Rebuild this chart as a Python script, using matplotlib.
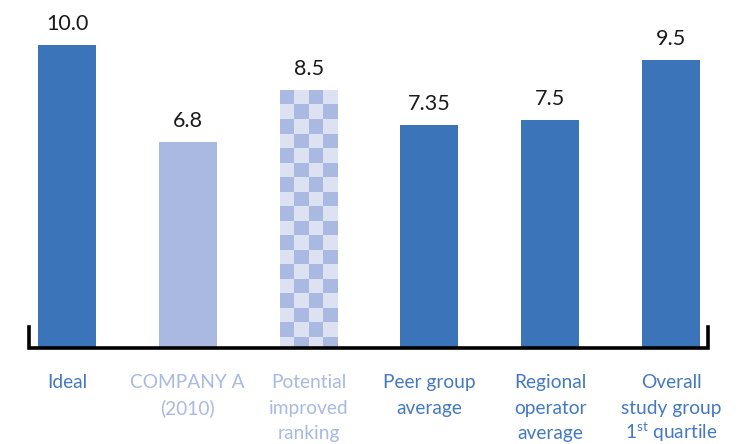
import numpy as np
import matplotlib
matplotlib.use("Agg")
import matplotlib.pyplot as plt

plt.rcParams['font.family'] = ['Lato', 'DejaVu Sans']
plt.rcParams['mathtext.fontset'] = 'custom'
plt.rcParams['mathtext.rm'] = 'Lato'

categories = ["Ideal", "COMPANY A\n(2010)", "Potential\nimproved\nranking",
              "Peer group\naverage", "Regional\noperator\naverage",
              "Overall\nstudy group\n1$^{\\mathrm{st}}$ quartile"]
values = [10.0, 6.8, 8.5, 7.35, 7.5, 9.5]
value_labels = ["10.0", "6.8", "8.5", "7.35", "7.5", "9.5"]

BLUE = "#3C74BA"
LIGHT = "#A9B9E1"
PALE = "#DCE2F2"
TEXT_BLUE = "#4479C0"
bar_colors = [BLUE, LIGHT, PALE, BLUE, BLUE, BLUE]
label_colors = [TEXT_BLUE, LIGHT, LIGHT, TEXT_BLUE, TEXT_BLUE, TEXT_BLUE]

W, H = 751, 444
fig = plt.figure(figsize=(W / 100, H / 100), dpi=100)
base_px = 97
ax = fig.add_axes([0, base_px / H, 1, 1 - base_px / H])
spacing = 120.8
c0 = 67
ppu = 30.2  # pixels per value unit
ax.axis('off')

x = np.arange(len(categories))
width = 58 / spacing
bars = ax.bar(x, values, width=width, color=bar_colors, zorder=2)

# checker pattern on the "potential" bar
b = bars[2]
bx0 = b.get_x()
bw = b.get_width()
btop = b.get_height()
sq = 14.5 / ppu
nrows = int(np.ceil(btop / sq))
ncols = 4
pattern = np.zeros((nrows, ncols, 3))
dark = np.array(matplotlib.colors.to_rgb(LIGHT))
light = np.array(matplotlib.colors.to_rgb(PALE))
for r in range(nrows):
    for c in range(ncols):
        pattern[r, c] = dark if (r + c) % 2 == 0 else light
im = ax.imshow(pattern, extent=(bx0, bx0 + bw, btop - nrows * sq, btop),
               aspect='auto', interpolation='nearest', zorder=3, origin='upper')
im.set_clip_path(b)
ax.set_xlim(-c0 / spacing, (W - c0) / spacing)
ax.set_ylim(0, (H - base_px) / ppu)

for xi, v, lab in zip(x, values, value_labels):
    ax.annotate(lab, (xi, v), xytext=(0, 8), textcoords='offset points',
                ha='center', va='bottom', fontsize=15.5, color='#1a1a1a')

# axis bracket
xl = (28.5 - c0) / spacing
xr = (707.5 - c0) / spacing
yb = -1.0 / ppu
ytick = 20 / ppu
ax.plot([xl, xl, xr, xr], [ytick, yb, yb, ytick], color='black', lw=2.6,
        solid_joinstyle='miter', clip_on=False, zorder=4)

line_baselines = [41, 67, 92]  # px below the zero line
for xi, lab, col in zip(x, categories, label_colors):
    for k, line in enumerate(lab.split("\n")):
        ax.text(xi, -line_baselines[k] / ppu, line, ha='center', va='baseline',
                fontsize=13.8, color=col)

fig.savefig("out.png", dpi=100)
